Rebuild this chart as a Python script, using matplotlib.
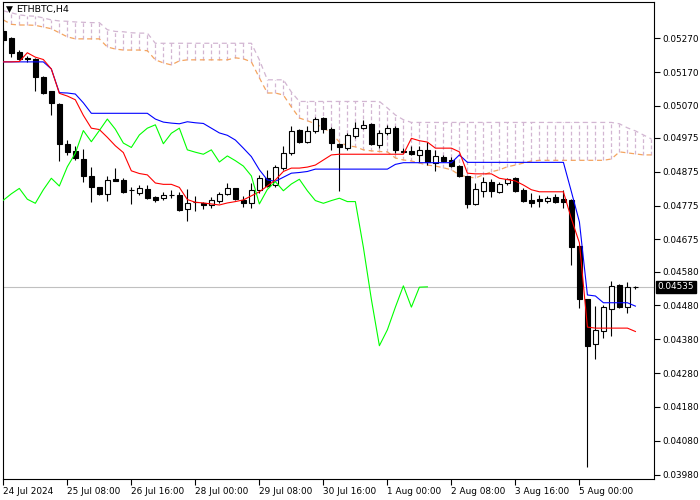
import numpy as np
import matplotlib
matplotlib.use('Agg')
import matplotlib.pyplot as plt
import matplotlib.transforms as mtransforms

# ETHBTC H4 candles, 24 Jul 2024 00:00 onwards
symbol = 'ETHBTC,H4'
time_labels = ['24 Jul 2024', '25 Jul 08:00', '26 Jul 16:00', '28 Jul 00:00', '29 Jul 08:00',
               '30 Jul 16:00', '1 Aug 00:00', '2 Aug 08:00', '3 Aug 16:00', '5 Aug 00:00']
price_ticks = [0.05270, 0.05170, 0.05070, 0.04975, 0.04875, 0.04775, 0.04675,
               0.04580, 0.04480, 0.04380, 0.04280, 0.04180, 0.04080, 0.03980]

opens = [0.05292, 0.05272, 0.05228, 0.05211, 0.05209, 0.05155, 0.05113, 0.05076, 0.04958, 0.04937,
         0.04913, 0.04863, 0.04830, 0.04809, 0.04853, 0.04851, 0.04822, 0.04813, 0.04823, 0.04801,
         0.04797, 0.04806, 0.04806, 0.04764, 0.04786, 0.04782, 0.04777, 0.04790, 0.04810, 0.04826,
         0.04792, 0.04782, 0.04822, 0.04856, 0.04836, 0.04886, 0.04930, 0.04999, 0.04964, 0.04997,
         0.05034, 0.05001, 0.04958, 0.04945, 0.04981, 0.05004, 0.05017, 0.04955, 0.04989, 0.05004,
         0.04938, 0.04938, 0.04925, 0.04940, 0.04902, 0.04920, 0.04910, 0.04892, 0.04863, 0.04780,
         0.04818, 0.04846, 0.04816, 0.04843, 0.04856, 0.04822, 0.04792, 0.04795, 0.04790, 0.04802,
         0.04794, 0.04792, 0.04656, 0.04498, 0.04365, 0.04405, 0.04469, 0.04541, 0.04476, 0.04534]
highs = [0.05300, 0.05275, 0.05235, 0.05218, 0.05212, 0.05157, 0.05114, 0.05077, 0.04969, 0.04950,
         0.04943, 0.04890, 0.04831, 0.04863, 0.04886, 0.04856, 0.04831, 0.04836, 0.04836, 0.04804,
         0.04816, 0.04822, 0.04816, 0.04824, 0.04804, 0.04787, 0.04802, 0.04816, 0.04843, 0.04827,
         0.04804, 0.04843, 0.04866, 0.04881, 0.04895, 0.04952, 0.05009, 0.05001, 0.05011, 0.05038,
         0.05036, 0.05007, 0.04959, 0.04989, 0.05021, 0.05029, 0.05019, 0.04999, 0.05014, 0.05009,
         0.04945, 0.04950, 0.04950, 0.04964, 0.04940, 0.04925, 0.04920, 0.04895, 0.04864, 0.04841,
         0.04859, 0.04855, 0.04846, 0.04856, 0.04859, 0.04826, 0.04812, 0.04807, 0.04804, 0.04810,
         0.04822, 0.04794, 0.04660, 0.04499, 0.04479, 0.04482, 0.04553, 0.04542, 0.04549, 0.04538]
lows = [0.05253, 0.05214, 0.05206, 0.05201, 0.05115, 0.05105, 0.05042, 0.04908, 0.04924, 0.04910,
        0.04846, 0.04787, 0.04806, 0.04790, 0.04848, 0.04813, 0.04780, 0.04807, 0.04795, 0.04786,
        0.04792, 0.04797, 0.04760, 0.04730, 0.04759, 0.04765, 0.04767, 0.04784, 0.04807, 0.04792,
        0.04770, 0.04767, 0.04813, 0.04830, 0.04830, 0.04881, 0.04925, 0.04961, 0.04961, 0.04991,
        0.04989, 0.04940, 0.04819, 0.04940, 0.04974, 0.05003, 0.04955, 0.04945, 0.04984, 0.04932,
        0.04930, 0.04925, 0.04904, 0.04895, 0.04878, 0.04904, 0.04890, 0.04859, 0.04767, 0.04777,
        0.04800, 0.04802, 0.04812, 0.04836, 0.04816, 0.04787, 0.04770, 0.04770, 0.04784, 0.04782,
        0.04767, 0.04600, 0.04472, 0.04003, 0.04321, 0.04383, 0.04390, 0.04472, 0.04459, 0.04530]
closes = [0.05265, 0.05226, 0.05209, 0.05209, 0.05154, 0.05109, 0.05078, 0.04957, 0.04935, 0.04915,
          0.04864, 0.04831, 0.04809, 0.04851, 0.04849, 0.04816, 0.04821, 0.04826, 0.04799, 0.04792,
          0.04807, 0.04807, 0.04762, 0.04784, 0.04785, 0.04776, 0.04791, 0.04810, 0.04826, 0.04794,
          0.04782, 0.04822, 0.04856, 0.04833, 0.04890, 0.04930, 0.04997, 0.04964, 0.04997, 0.05031,
          0.05001, 0.04960, 0.04947, 0.04984, 0.05004, 0.05014, 0.04958, 0.04989, 0.05004, 0.04940,
          0.04933, 0.04927, 0.04940, 0.04904, 0.04922, 0.04908, 0.04892, 0.04863, 0.04780, 0.04823,
          0.04846, 0.04819, 0.04839, 0.04853, 0.04819, 0.04790, 0.04782, 0.04790, 0.04797, 0.04787,
          0.04787, 0.04652, 0.04498, 0.04361, 0.04408, 0.04475, 0.04538, 0.04475, 0.04534, 0.04535]

# Ichimoku lines as shown on the chart
tenkan = [0.05200, 0.05200, 0.05201, 0.05227, 0.05214, 0.05207, 0.05179, 0.05107, 0.05099, 0.05088,
          0.05042, 0.05004, 0.05000, 0.04977, 0.04952, 0.04932, 0.04878, 0.04870, 0.04866, 0.04842,
          0.04838, 0.04838, 0.04829, 0.04793, 0.04785, 0.04783, 0.04780, 0.04777, 0.04783, 0.04787,
          0.04792, 0.04804, 0.04816, 0.04833, 0.04851, 0.04876, 0.04886, 0.04886, 0.04889, 0.04895,
          0.04910, 0.04925, 0.04927, 0.04927, 0.04927, 0.04927, 0.04927, 0.04927, 0.04927, 0.04927,
          0.04927, 0.04974, 0.04967, 0.04963, 0.04945, 0.04945, 0.04945, 0.04934, 0.04871, 0.04869,
          0.04869, 0.04869, 0.04856, 0.04852, 0.04848, 0.04836, 0.04822, 0.04816, 0.04816, 0.04816,
          0.04816, 0.04736, 0.04665, 0.04416, 0.04413, 0.04413, 0.04413, 0.04413, 0.04413, 0.04403]
kijun = [0.05200, 0.05200, 0.05200, 0.05200, 0.05200, 0.05200, 0.05179, 0.05109, 0.05108, 0.05105,
         0.05079, 0.05048, 0.05048, 0.05048, 0.05048, 0.05048, 0.05048, 0.05048, 0.05048, 0.05031,
         0.05022, 0.05019, 0.05017, 0.05023, 0.05020, 0.05018, 0.05004, 0.04990, 0.04983, 0.04969,
         0.04945, 0.04920, 0.04881, 0.04851, 0.04847, 0.04859, 0.04871, 0.04873, 0.04876, 0.04883,
         0.04883, 0.04883, 0.04883, 0.04883, 0.04883, 0.04883, 0.04883, 0.04883, 0.04883, 0.04897,
         0.04902, 0.04902, 0.04902, 0.04902, 0.04902, 0.04902, 0.04902, 0.04925, 0.04903, 0.04903,
         0.04903, 0.04903, 0.04903, 0.04903, 0.04903, 0.04903, 0.04903, 0.04903, 0.04903, 0.04903,
         0.04903, 0.04816, 0.04727, 0.04511, 0.04508, 0.04488, 0.04488, 0.04488, 0.04488, 0.04478]
span_a = [0.05324, 0.05311, 0.05309, 0.05309, 0.05308, 0.05303, 0.05298, 0.05286, 0.05274, 0.05268,
          0.05268, 0.05268, 0.05268, 0.05244, 0.05238, 0.05235, 0.05235, 0.05235, 0.05233, 0.05206,
          0.05197, 0.05191, 0.05203, 0.05206, 0.05206, 0.05206, 0.05206, 0.05206, 0.05206, 0.05212,
          0.05209, 0.05200, 0.05153, 0.05108, 0.05108, 0.05102, 0.05067, 0.05034, 0.05026, 0.05017,
          0.05005, 0.04990, 0.04963, 0.04952, 0.04949, 0.04940, 0.04937, 0.04935, 0.04934, 0.04916,
          0.04910, 0.04907, 0.04901, 0.04895, 0.04892, 0.04887, 0.04881, 0.04866, 0.04860, 0.04857,
          0.04866, 0.04875, 0.04881, 0.04890, 0.04895, 0.04901, 0.04907, 0.04909, 0.04909, 0.04909,
          0.04909, 0.04909, 0.04909, 0.04909, 0.04909, 0.04909, 0.04913, 0.04934, 0.04931, 0.04928,
          0.04925, 0.04925]
span_b = [0.05351, 0.05345, 0.05339, 0.05336, 0.05335, 0.05330, 0.05324, 0.05321, 0.05320, 0.05318,
          0.05317, 0.05316, 0.05316, 0.05295, 0.05290, 0.05289, 0.05286, 0.05285, 0.05285, 0.05255,
          0.05255, 0.05255, 0.05255, 0.05255, 0.05255, 0.05255, 0.05255, 0.05255, 0.05255, 0.05255,
          0.05255, 0.05255, 0.05206, 0.05147, 0.05147, 0.05147, 0.05111, 0.05083, 0.05083, 0.05083,
          0.05083, 0.05083, 0.05083, 0.05083, 0.05083, 0.05083, 0.05083, 0.05083, 0.05064, 0.05043,
          0.05029, 0.05021, 0.05021, 0.05021, 0.05021, 0.05021, 0.05021, 0.05021, 0.05021, 0.05021,
          0.05021, 0.05021, 0.05021, 0.05021, 0.05021, 0.05021, 0.05021, 0.05021, 0.05021, 0.05021,
          0.05021, 0.05021, 0.05021, 0.05021, 0.05021, 0.05021, 0.05021, 0.05017, 0.05005, 0.04996,
          0.04984, 0.04972]

shift = 26  # chikou span lag

plt.rcParams['font.family'] = ['DejaVu Sans']
fig = plt.figure(figsize=(7, 5), dpi=100)
ax = fig.add_axes([0.0036, 0.042, 0.931, 0.954])

n = len(closes)
x = np.arange(n)
o = np.array(opens)
c = np.array(closes)

# cloud hatch + span lines
xc = np.arange(len(span_a))
ax.vlines(xc, span_a, span_b, colors='#D2B6D2', linestyles=(0, (3, 2)), lw=0.9, zorder=1)
ax.plot(xc, span_b, color='#D2B6D2', lw=0.9, ls=(0, (4, 3)), zorder=1.1)
ax.plot(xc, span_a, color='#F4A460', lw=0.9, ls=(0, (4, 3)), zorder=1.1)

# last price line
ax.axhline(closes[-1], color='#C0C0C0', lw=0.8, zorder=0.5)

# candles
ax.vlines(x, lows, highs, colors='black', lw=0.8, zorder=2)
bull = c >= o
ax.bar(x, np.abs(c - o), bottom=np.minimum(o, c), width=0.55,
       color=np.where(bull, 'white', 'black'), edgecolor='black', lw=0.8, zorder=2.1)

# indicator lines
ax.plot(x, kijun, color='#0000FF', lw=0.8, zorder=3)
ax.plot(x, tenkan, color='#FF0000', lw=0.8, zorder=3)
ax.plot(x[:n - shift], closes[shift:], color='#00FF00', lw=0.8, zorder=3)

ax.set_xlim(-0.1, 81.35)
ax.set_ylim(0.03967, 0.05377)

ax.yaxis.tick_right()
ax.set_yticks(price_ticks)
ax.set_yticklabels([f'{p:.5f}' for p in price_ticks])
ax.tick_params(axis='y', direction='out', length=4, width=0.8, labelsize=6.4, pad=2)

ax.set_xticks(np.arange(0, n, 8))
ax.set_xticklabels(time_labels)
ax.tick_params(axis='x', direction='out', length=4, width=0.8, labelsize=6.4, pad=2)
for lbl in ax.get_xticklabels():
    lbl.set_ha('left')

for sp in ax.spines.values():
    sp.set_linewidth(0.8)
    sp.set_color('black')

# current price tag
trans = mtransforms.blended_transform_factory(ax.transAxes, ax.transData)
ax.text(1.005, closes[-1], f'{closes[-1]:.5f}', transform=trans, color='white',
        fontsize=6.4, va='center', ha='left',
        bbox=dict(facecolor='black', edgecolor='black', pad=1.2))

# symbol caption
ax.text(0.005, 0.984, '\u25BC', transform=ax.transAxes, fontsize=6.5, va='center', ha='left')
ax.text(0.021, 0.984, symbol, transform=ax.transAxes, fontsize=6.8, va='center', ha='left')

fig.savefig('out.png', dpi=100)
